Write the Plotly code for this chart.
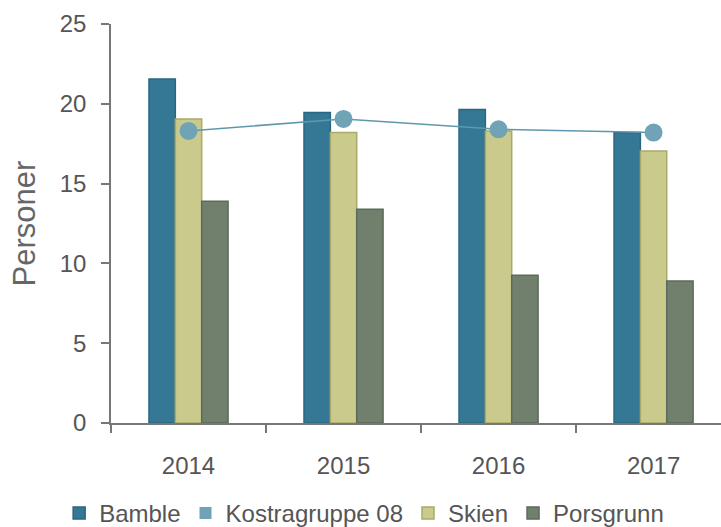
import plotly.graph_objects as go

years = ["2014", "2015", "2016", "2017"]
bamble = [21.55, 19.45, 19.65, 18.2]
kostra = [18.3, 19.05, 18.4, 18.2]
skien = [19.05, 18.2, 18.3, 17.05]
porsgrunn = [13.9, 13.4, 9.25, 8.9]
y_ticks = [0, 5, 10, 15, 20, 25]

c_bamble = "#357895"
c_kostra = "#6fa3b5"
c_skien = "#c9ca8b"
c_pors = "#70806d"

FONT = "Liberation Sans, Arial, sans-serif"

fig = go.Figure()
fig.add_trace(go.Bar(name="Bamble", x=years, y=bamble, legendrank=1,
                     marker=dict(color=c_bamble, line=dict(color="#2a6681", width=1.5))))
fig.add_trace(go.Scatter(name="Kostragruppe 08", x=[None], y=[None], mode="markers", legendrank=2,
                         marker=dict(symbol="square", size=12, color=c_kostra)))
fig.add_trace(go.Bar(name="Skien", x=years, y=skien, legendrank=3,
                     marker=dict(color=c_skien, line=dict(color="#aaa96c", width=1.5))))
fig.add_trace(go.Bar(name="Porsgrunn", x=years, y=porsgrunn, legendrank=4,
                     marker=dict(color=c_pors, line=dict(color="#5c6a59", width=1.5))))
fig.add_trace(go.Scatter(name="Kostragruppe 08", x=years, y=kostra, mode="lines+markers", showlegend=False,
                         line=dict(color="#5f98ad", width=1.5),
                         marker=dict(size=18, color=c_kostra)))

fig.update_layout(
    width=721, height=527,
    margin=dict(l=111, r=0, t=24, b=104),
    plot_bgcolor="white", paper_bgcolor="white",
    barmode="group", bargap=0.49, bargroupgap=0,
    font=dict(family=FONT, color="#555555", size=24),
    showlegend=True,
    legend=dict(orientation="h", x=0.415, xanchor="center", yref="container", y=0.026, yanchor="middle",
                font=dict(size=24, color="#555555"), traceorder="normal"),
    xaxis=dict(type="category", range=[-0.5, 3.435], showline=True, linecolor="#777777", linewidth=1.5,
               ticks="outside", tickson="boundaries", ticklen=8, tickcolor="#777777", tickwidth=1.5,
               showgrid=False, ticklabelstandoff=20, tickfont=dict(size=24, color="#555555")),
    yaxis=dict(range=[0, 25], tickvals=y_ticks, showline=True, linecolor="#777777", linewidth=1.5,
               ticks="outside", ticklen=8, tickcolor="#777777", tickwidth=1.5, showgrid=False, zeroline=False,
               ticklabelstandoff=10, tickfont=dict(size=24, color="#555555"),
               title=dict(text="Personer", font=dict(size=31, color="#666666"), standoff=15)),
)

fig.write_html("out.html", config={"displayModeBar": False},
               post_script="document.body.style.margin='0';document.body.style.overflow='hidden';")
